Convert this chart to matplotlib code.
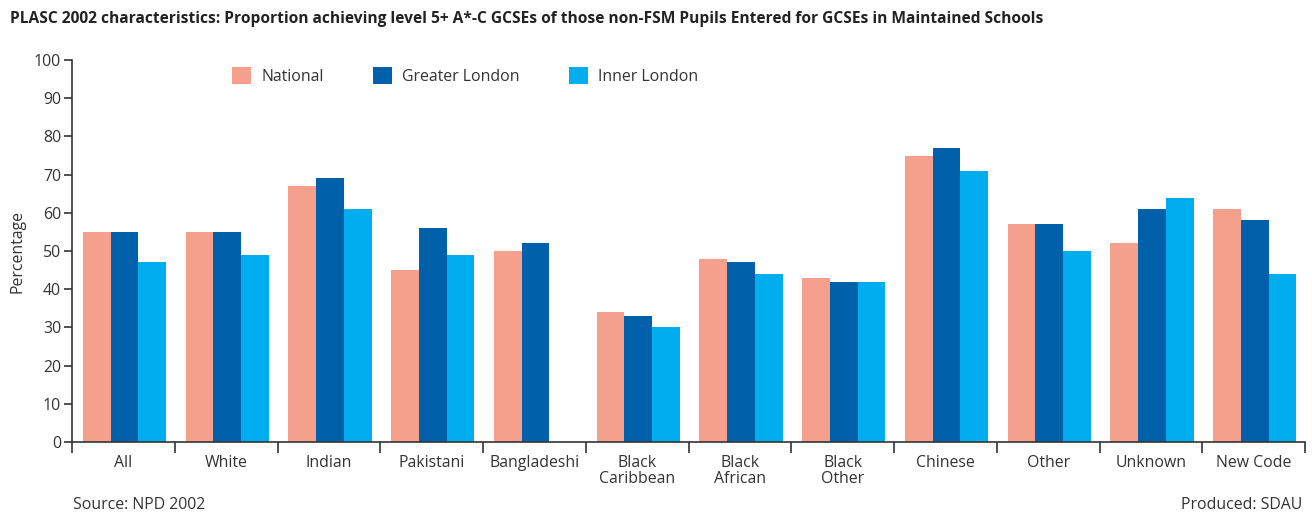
import matplotlib
matplotlib.use('Agg')
import matplotlib.pyplot as plt
import numpy as np

plt.rcParams['font.family'] = ['Open Sans', 'DejaVu Sans']

categories = ['All', 'White', 'Indian', 'Pakistani', 'Bangladeshi', 'Black\nCaribbean',
              'Black\nAfrican', 'Black\nOther', 'Chinese', 'Other', 'Unknown', 'New Code']
national = [55, 55, 67, 45, 50, 34, 48, 43, 75, 57, 52, 61]
greater_london = [55, 55, 69, 56, 52, 33, 47, 42, 77, 57, 61, 58]
inner_london = [47, 49, 61, 49, np.nan, 30, 44, 42, 71, 50, 64, 44]

series = [('National', national, '#F4A08C'),
          ('Greater London', greater_london, '#0060AA'),
          ('Inner London', inner_london, '#00AEEF')]

txt = '#333333'
fs = 11.4
fig = plt.figure(figsize=(13.12, 5.13), dpi=100)
ax = fig.add_axes([0.0549, 0.1384, 0.9398, 0.7446])

x = np.arange(len(categories))
w = 0.27
for i, (name, vals, col) in enumerate(series):
    ax.bar(x + (i - 1) * w + 0.01, vals, width=w, color=col, label=name, linewidth=0)

ax.set_xlim(-0.5, len(categories) - 0.5)
ax.set_ylim(0, 100)
ax.set_yticks(range(0, 101, 10))
ax.set_xticks(np.arange(len(categories) + 1) - 0.5)
ax.set_xticklabels([])
ax.set_xticks(x, minor=True)
ax.set_xticklabels(categories, minor=True, fontsize=fs, color=txt, linespacing=1.05)
ax.tick_params(axis='x', which='major', length=8, width=1.2, color=txt)
ax.tick_params(axis='x', which='minor', length=0, pad=9)
ax.tick_params(axis='y', length=6, width=1.2, color=txt, labelsize=fs, labelcolor=txt, pad=2)
for s in ['top', 'right']:
    ax.spines[s].set_visible(False)
for s in ['left', 'bottom']:
    ax.spines[s].set_linewidth(1.2)
    ax.spines[s].set_color(txt)

ax.set_ylabel('Percentage', fontsize=fs, color=txt, labelpad=6)

ax.legend(ncol=3, loc='center left', bbox_to_anchor=(0.118, 0.958), frameon=False,
          fontsize=fs, handlelength=1.2, handleheight=1.2, columnspacing=3.1,
          handletextpad=0.65, labelcolor=txt)

fig.text(0.0076, 0.962, 'PLASC 2002 characteristics: Proportion achieving level 5+ A*-C GCSEs of those non-FSM Pupils Entered for GCSEs in Maintained Schools',
         fontsize=11.2, fontweight='bold', color='#222222', va='center')
fig.text(0.0556, 0.0156, 'Source: NPD 2002', fontsize=fs, color=txt, va='center')
fig.text(0.9925, 0.0156, 'Produced: SDAU', fontsize=fs, color=txt, va='center', ha='right')

fig.savefig('out.png', dpi=100)
